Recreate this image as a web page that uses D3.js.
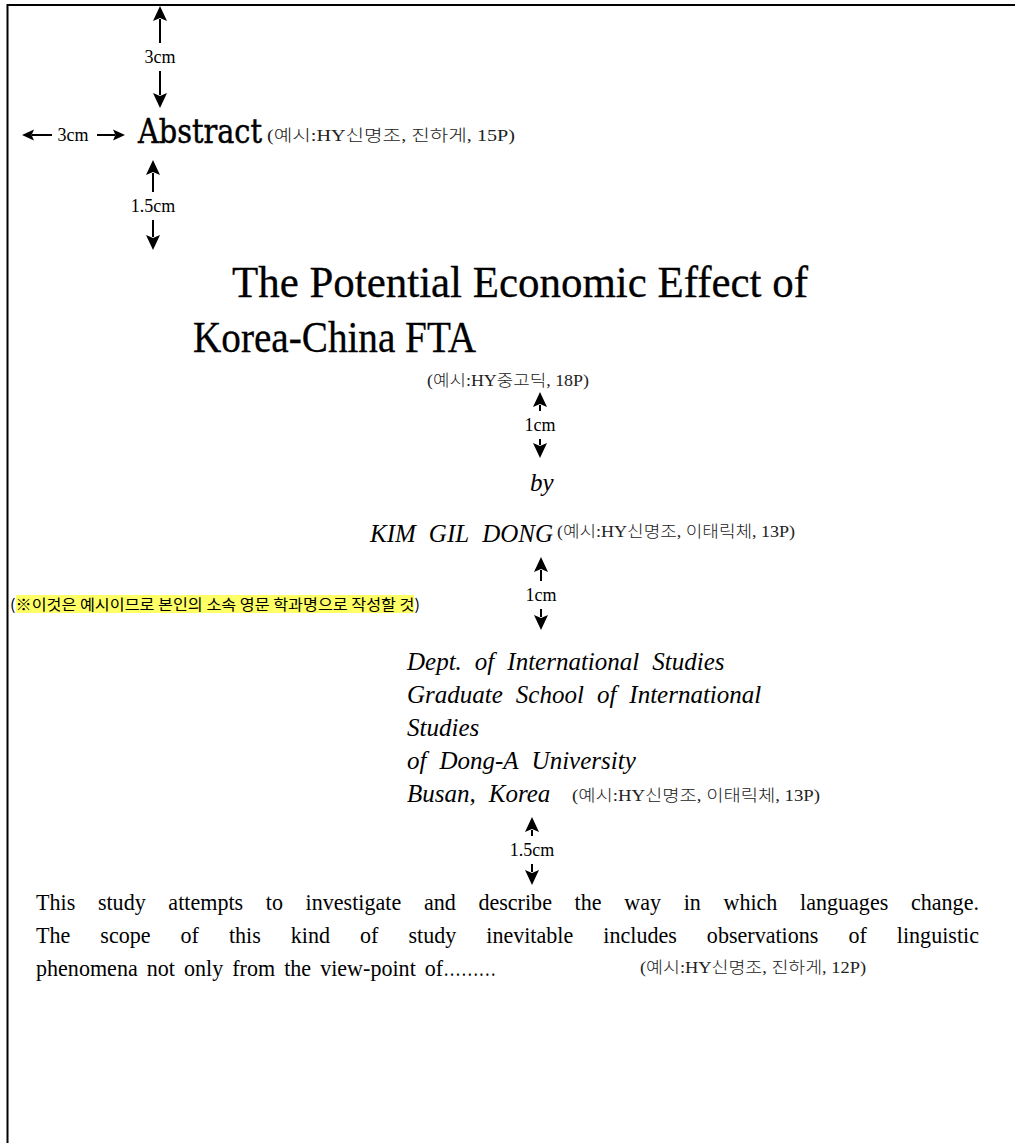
<!DOCTYPE html>
<html>
<head>
<meta charset="utf-8">
<script src="https://cdn.jsdelivr.net/npm/d3@7"></script>
<style>
  body { margin: 0; background: #fff; }
  svg { display: block; }
</style>
</head>
<body>
<svg id="page"></svg>
<script>
// ---- page content ----
var heading = "Abstract";
var titleLines = ["The Potential Economic Effect of", "Korea-China FTA"];
var byLine = "by";
var authorName = "KIM GIL DONG";
var deptLines = [
    "Dept. of International Studies",
    "Graduate School of International",
    "Studies",
    "of Dong-A University",
    "Busan, Korea"
];
var bodyLines = [
    "This study attempts to investigate and describe the way in which languages change.",
    "The scope of this kind of study inevitable includes observations of linguistic",
    "phenomena not only from the view-point of\u2026\u2026\u2026"
];
var fontNotes = [
    "(예시:HY신명조, 진하게, 15P)",
    "(예시:HY중고딕, 18P)",
    "(예시:HY신명조, 이태릭체, 13P)",
    "(예시:HY신명조, 이태릭체, 13P)",
    "(예시:HY신명조, 진하게, 12P)"
];
var deptNote = "※이것은 예시이므로 본인의 소속 영문 학과명으로 작성할 것";
var spacingLabels = ["3cm", "3cm", "1.5cm", "1cm", "1cm", "1.5cm"];

// ---- layout ----
var W = 1015, H = 1143;
var SERIF = "'Liberation Serif', 'Noto Sans CJK KR', serif";
var SLAB = "'DejaVu Serif', serif";
var KSANS = "'Noto Sans CJK KR', sans-serif";

// where each note sits: x, baseline, width
var notePos = [
    {x: 267, y: 141, w: 248},
    {x: 427, y: 386, w: 162},
    {x: 557, y: 537, w: 238},
    {x: 572, y: 801, w: 248},
    {x: 640, y: 973, w: 226}
];
// vertical spacing markers: x, arrow top, label centre, arrow bottom
var vMarks = [
    {x: 160, top: 6,   mid: 57,  bottom: 108, label: 0},
    {x: 153, top: 160, mid: 206, bottom: 250, label: 2},
    {x: 540, top: 392, mid: 425, bottom: 458, label: 3},
    {x: 541, top: 557, mid: 595, bottom: 630, label: 4},
    {x: 532, top: 817, mid: 850, bottom: 885, label: 5}
];

var svg = d3.select("#page")
    .attr("width", W)
    .attr("height", H)
    .attr("viewBox", [0, 0, W, H]);

svg.append("rect").attr("width", W).attr("height", H).attr("fill", "#fff");

// page frame (top and left edges visible)
svg.append("path")
    .attr("d", d3.line()([[7.5, H], [7.5, 5], [W, 5]]))
    .attr("fill", "none")
    .attr("stroke", "#000")
    .attr("stroke-width", 2);

function arrowHead(g, x, y, angle, len, half) {
    // tip at (x,y) pointing in direction angle (deg)
    var notch = len * 0.2;
    g.append("path")
        .attr("d", "M0,0L" + (-len) + "," + (-half) + "L" + (-len + notch) + ",0L" + (-len) + "," + half + "Z")
        .attr("transform", "translate(" + x + "," + y + ") rotate(" + angle + ")")
        .attr("fill", "#000");
}

function arrow(g, x1, y1, x2, y2, len, half) {
    var a = Math.atan2(y2 - y1, x2 - x1) * 180 / Math.PI;
    var dx = Math.cos(a * Math.PI / 180) * (len - 2), dy = Math.sin(a * Math.PI / 180) * (len - 2);
    g.append("line")
        .attr("x1", x1).attr("y1", y1)
        .attr("x2", x2 - dx).attr("y2", y2 - dy)
        .attr("stroke", "#000").attr("stroke-width", 2);
    arrowHead(g, x2, y2, a, len, half);
}

var marks = svg.append("g");
vMarks.forEach(function(m) {
    arrow(marks, m.x, m.mid - 14, m.x, m.top, 15, 7);
    arrow(marks, m.x, m.mid + 14, m.x, m.bottom, 15, 7);
    marks.append("text")
        .attr("x", m.x).attr("y", m.mid + 6)
        .attr("text-anchor", "middle")
        .attr("font-family", SERIF).attr("font-size", 18)
        .text(spacingLabels[m.label]);
});
// left margin marker
arrow(marks, 52, 135, 22, 135, 12, 5.5);
arrow(marks, 97, 135, 125, 135, 12, 5.5);
marks.append("text")
    .attr("x", 73).attr("y", 141)
    .attr("text-anchor", "middle")
    .attr("font-family", SERIF).attr("font-size", 18)
    .text(spacingLabels[1]);

// heading
svg.append("text")
    .attr("x", 138).attr("y", 143)
    .attr("font-family", SLAB).attr("font-size", 34)
    .attr("stroke", "#000").attr("stroke-width", 0.5)
    .attr("textLength", 124).attr("lengthAdjust", "spacingAndGlyphs")
    .text(heading);

// title
var titleX = [232, 193], titleW = [576, 283], titleY = [297, 352];
titleLines.forEach(function(t, i) {
    svg.append("text")
        .attr("x", titleX[i]).attr("y", titleY[i])
        .attr("font-family", SERIF).attr("font-size", 44)
        .attr("stroke", "#000").attr("stroke-width", 0.3)
        .attr("textLength", titleW[i]).attr("lengthAdjust", "spacingAndGlyphs")
        .text(t);
});

// font notes
fontNotes.forEach(function(t, i) {
    var p = notePos[i];
    svg.append("text")
        .attr("x", p.x).attr("y", p.y)
        .attr("font-family", SERIF).attr("font-size", 16)
        .attr("font-weight", 300)
        .attr("fill", "#222")
        .attr("textLength", p.w).attr("lengthAdjust", "spacingAndGlyphs")
        .text(t);
});

// word-by-word line drawing: fixed gap or justified to a width
// trailing dots are split off so they can be drawn narrower
function drawWords(g, str, x, y, opt) {
    var tokens = [];
    str.split(" ").forEach(function(w) {
        var j = w.indexOf("\u2026");
        if (j > 0) {
            tokens.push({s: w.slice(0, j), attach: false});
            tokens.push({s: w.slice(j), attach: true, dots: true});
        } else {
            tokens.push({s: w, attach: false});
        }
    });
    var nodes = tokens.map(function(tk) {
        var t = g.append("text")
            .attr("font-family", SERIF)
            .attr("font-size", opt.size)
            .attr("font-style", opt.italic ? "italic" : "normal")
            .text(tk.s);
        var k = tk.dots ? opt.condense * 0.8 : opt.condense;
        return {t: t, k: k, attach: tk.attach, w: t.node().getComputedTextLength() * k};
    });
    var total = d3.sum(nodes, function(d) { return d.w; });
    var nGaps = nodes.filter(function(d, i) { return i > 0 && !d.attach; }).length;
    var gap = opt.width ? (opt.width - total) / nGaps : opt.gap;
    var cx = x;
    nodes.forEach(function(d, i) {
        if (i > 0 && !d.attach) cx += gap;
        d.t.attr("transform", "translate(" + cx + "," + y + ") scale(" + d.k + ",1)");
        cx += d.w;
    });
}

var italicOpt = {size: 25, italic: true, condense: 1, gap: 13};
drawWords(svg, byLine, 530, 491, italicOpt);
drawWords(svg, authorName, 370, 542, italicOpt);
var deptY = [670, 703, 736, 769, 802];
deptLines.forEach(function(t, i) {
    drawWords(svg, t, 407, deptY[i], italicOpt);
});

// highlighted remark
var remark = svg.append("g");
remark.append("rect")
    .attr("x", 16).attr("y", 595)
    .attr("width", 398).attr("height", 18)
    .attr("fill", "#ffff66");
remark.append("text")
    .attr("x", 10).attr("y", 610)
    .attr("font-family", KSANS).attr("font-size", 15)
    .attr("textLength", 410).attr("lengthAdjust", "spacingAndGlyphs")
    .text("(" + deptNote + ")");

// body paragraph
var bodyY = [910, 943, 976];
bodyLines.forEach(function(t, i) {
    var opt = {size: 24, condense: 0.92, gap: 9};
    if (i < bodyLines.length - 1) opt.width = 979 - 36;
    drawWords(svg, t, 36, bodyY[i], opt);
});
</script>
</body>
</html>
